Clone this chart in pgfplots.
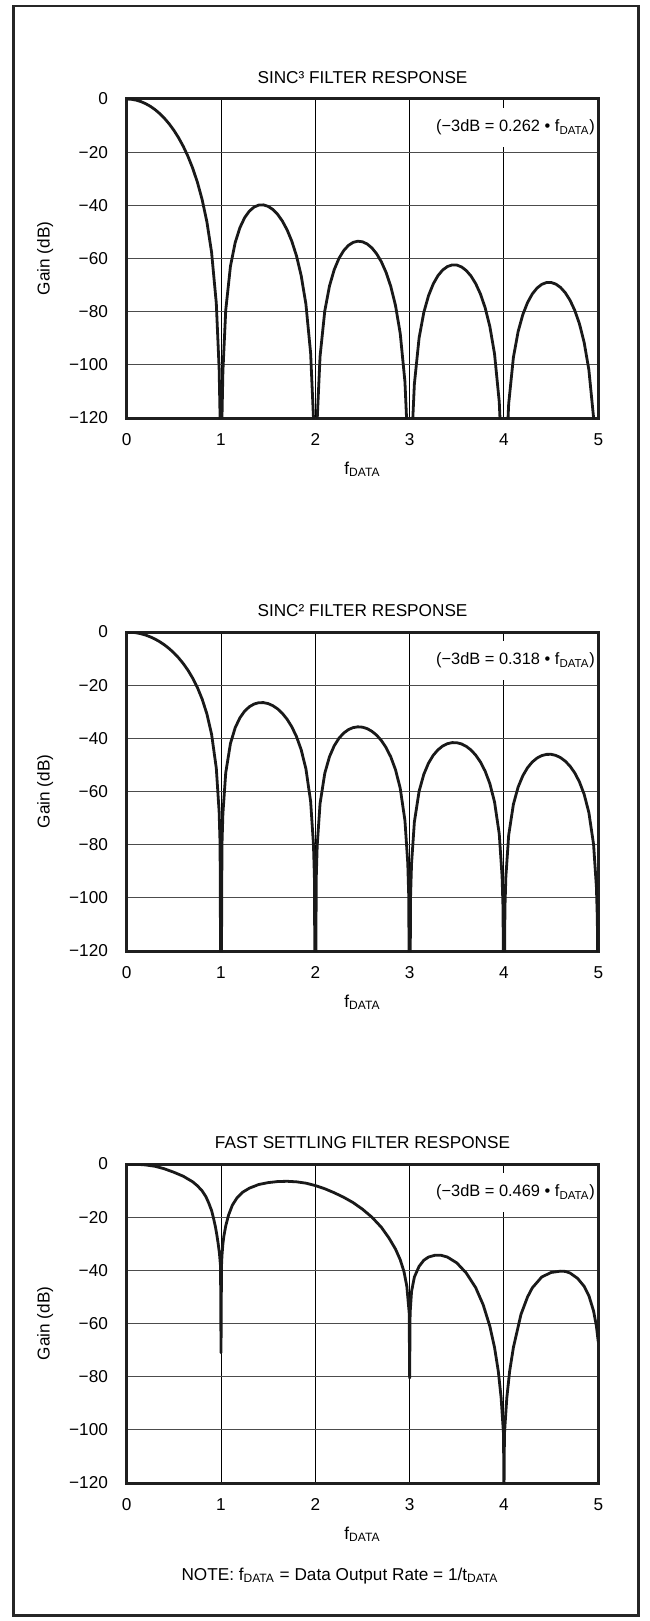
\documentclass[border=0pt]{standalone}
\usepackage{fontspec}
\setmainfont{Liberation Sans}
\usepackage{pgfplots}
\pgfplotsset{compat=1.18}
\newcommand{\fs}{\fontsize{8.6}{10}\selectfont}
\newcommand{\fa}{\fontsize{8.2}{10}\selectfont}
\pgfplotsset{
 filt/.style={
  scale only axis, width=235.8pt, height=159.5pt,
  xmin=0, xmax=5, ymin=-120, ymax=0,
  clip mode=individual,
  xtick={0,1,2,3,4,5}, xticklabels={0,1,2,3,4,5},
  ytick={-120,-100,-80,-60,-40,-20,0}, yticklabels={−120,−100,−80,−60,−40,−20,0},
  major tick length=0pt,
  grid=major,
  x grid style={black, line width=0.5pt},
  y grid style={black!70, line width=0.6pt},
  axis line style={line width=1.5pt, black!88},
  tick label style={font=\fs, black},
  xticklabel style={anchor=base, yshift=-13.5pt},
  yticklabel style={anchor=east, inner sep=0pt, xshift=-9.2pt},
  every axis x label/.style={at={(axis description cs:0.5,0)}, anchor=base, yshift=-28pt, font=\fs},
  every axis y label/.style={at={(axis description cs:0,0.5)}, xshift=-38.5pt, rotate=90, anchor=base, font=\fs},
  xlabel={f\textsubscript{DATA}},
  ylabel={Gain (dB)},
 },
 curve/.style={line width=1.4pt, black!90, line join=round},
}
\tikzset{
 annot/.style={anchor=base east, font=\fa, fill=white, inner xsep=0.5pt, inner ysep=6pt, xshift=-1pt, yshift=-16.4pt},
 ttl/.style={anchor=base, font=\fs, yshift=7.8pt},
}
\begin{document}
\begin{tikzpicture}
\useasboundingbox (0,0) rectangle (324.5pt,-810.5pt);
\draw[line width=1.4pt, black!85] (6.8pt,-3pt) rectangle (319.3pt,-807.6pt);

% ---------- SINC3 ----------
\begin{axis}[filt, at={(63.35pt,-49.5pt)}, anchor=north west]
\addplot[curve] coordinates {
(0,0) (0.05,-0.108) (0.1,-0.429) (0.15,-0.972) (0.2,-1.740) (0.25,-2.736) (0.3,-3.978) (0.35,-5.478) (0.4,-7.260) (0.45,-9.345) (0.5,-11.766) (0.55,-14.574) (0.6,-17.826) (0.65,-21.609) (0.7,-26.058) (0.75,-31.362) (0.8,-37.863) (0.85,-46.170) (0.9,-57.684) (0.95,-76.830) (0.98,-101.43) (0.99,-119.74) (1,-160) (1.01,-120.26) (1.02,-102.47) (1.05,-79.44) (1.1,-62.91) (1.15,-54.05) (1.2,-48.43) (1.25,-44.67) (1.3,-42.19) (1.35,-40.66) (1.4,-39.91) (1.45,-39.83) (1.5,-40.40) (1.55,-41.57) (1.6,-43.38) (1.65,-45.89) (1.7,-49.18) (1.75,-53.44) (1.8,-58.99) (1.85,-66.44) (1.9,-77.15) (1.95,-95.57) (1.98,-119.75) (2,-160) (2.02,-120.28) (2.05,-96.87) (2.1,-79.76) (2.15,-70.35) (2.2,-64.22) (2.25,-59.99) (2.3,-57.06) (2.35,-55.10) (2.4,-53.95) (2.45,-53.50) (2.5,-53.71) (2.55,-54.55) (2.6,-56.03) (2.65,-58.23) (2.7,-61.23) (2.75,-65.22) (2.8,-70.51) (2.85,-77.70) (2.9,-88.17) (2.95,-106.36) (2.98,-130.41) (3,-160) (3.02,-130.76) (3.05,-107.23) (3.1,-89.91) (3.15,-80.30) (3.2,-73.99) (3.25,-69.57) (3.3,-66.46) (3.35,-64.34) (3.4,-63.03) (3.45,-62.42) (3.5,-62.47) (3.55,-63.17) (3.6,-64.52) (3.65,-66.57) (3.7,-69.44) (3.75,-73.30) (3.8,-78.47) (3.85,-85.53) (3.9,-95.89) (3.95,-113.96) (3.98,-137.95) (4,-160) (4.02,-138.21) (4.05,-114.62) (4.1,-97.20) (4.15,-87.49) (4.2,-81.07) (4.25,-76.56) (4.3,-73.36) (4.35,-71.15) (4.4,-69.74) (4.45,-69.05) (4.5,-69.02) (4.55,-69.63) (4.6,-70.90) (4.65,-72.88) (4.7,-75.68) (4.75,-79.46) (4.8,-84.55) (4.85,-91.55) (4.9,-101.84) (4.95,-119.84) (4.98,-143.79) (5,-160)
};
\node[ttl] at (rel axis cs:0.5,1) {SINC³ FILTER RESPONSE};
\node[annot] at (rel axis cs:1,1) {(−3dB = 0.262 • f\textsubscript{DATA})};
\end{axis}

% ---------- SINC2 ----------
\begin{axis}[filt, at={(63.35pt,-316pt)}, anchor=north west]
\addplot[curve] coordinates {
(0,0) (0.05,-0.072) (0.1,-0.286) (0.15,-0.648) (0.2,-1.160) (0.25,-1.824) (0.3,-2.652) (0.35,-3.652) (0.4,-4.840) (0.45,-6.230) (0.5,-7.844) (0.55,-9.716) (0.6,-11.884) (0.65,-14.406) (0.7,-17.372) (0.75,-20.908) (0.8,-25.242) (0.85,-30.780) (0.9,-38.456) (0.95,-51.220) (0.98,-67.62) (0.99,-79.83) (1,-160) (1.01,-80.17) (1.02,-68.31) (1.05,-52.96) (1.1,-41.94) (1.15,-36.03) (1.2,-32.29) (1.25,-29.78) (1.3,-28.13) (1.35,-27.10) (1.4,-26.60) (1.45,-26.56) (1.5,-26.93) (1.55,-27.72) (1.6,-28.92) (1.65,-30.59) (1.7,-32.79) (1.75,-35.63) (1.8,-39.33) (1.85,-44.29) (1.9,-51.44) (1.95,-63.71) (1.98,-79.84) (1.99,-91.96) (2,-160) (2.01,-92.13) (2.02,-80.18) (2.05,-64.58) (2.1,-53.17) (2.15,-46.90) (2.2,-42.81) (2.25,-39.99) (2.3,-38.04) (2.35,-36.73) (2.4,-35.97) (2.45,-35.67) (2.5,-35.80) (2.55,-36.36) (2.6,-37.36) (2.65,-38.82) (2.7,-40.82) (2.75,-43.48) (2.8,-47.00) (2.85,-51.80) (2.9,-58.78) (2.95,-70.90) (2.98,-86.94) (2.99,-99.03) (3,-160) (3.01,-99.14) (3.02,-87.17) (3.05,-71.48) (3.1,-59.94) (3.15,-53.54) (3.2,-49.32) (3.25,-46.38) (3.3,-44.31) (3.35,-42.89) (3.4,-42.02) (3.45,-41.61) (3.5,-41.65) (3.55,-42.11) (3.6,-43.01) (3.65,-44.38) (3.7,-46.30) (3.75,-48.87) (3.8,-52.31) (3.85,-57.02) (3.9,-63.93) (3.95,-75.98) (3.98,-91.96) (3.99,-104.04) (4,-160) (4.01,-104.13) (4.02,-92.14) (4.05,-76.41) (4.1,-64.80) (4.15,-58.33) (4.2,-54.05) (4.25,-51.04) (4.3,-48.91) (4.35,-47.43) (4.4,-46.50) (4.45,-46.04) (4.5,-46.01) (4.55,-46.42) (4.6,-47.27) (4.65,-48.59) (4.7,-50.45) (4.75,-52.97) (4.8,-56.37) (4.85,-61.03) (4.9,-67.89) (4.95,-79.90) (4.98,-95.86) (4.99,-107.93) (5,-160)
};
\node[ttl] at (rel axis cs:0.5,1) {SINC² FILTER RESPONSE};
\node[annot] at (rel axis cs:1,1) {(−3dB = 0.318 • f\textsubscript{DATA})};
\end{axis}

% ---------- FAST SETTLING ----------
\begin{axis}[filt, at={(63.35pt,-582pt)}, anchor=north west]
\addplot[curve] coordinates {
(0,0) (0.1,-0.08) (0.2,-0.35) (0.3,-0.85) (0.4,-1.8) (0.5,-3.1) (0.6,-4.6) (0.7,-6.7) (0.75,-8.2) (0.8,-10.1) (0.84,-12.3) (0.87,-14.7) (0.9,-17.5) (0.92,-20.3) (0.94,-23.5) (0.955,-26.5) (0.97,-30) (0.983,-33.5) (0.995,-38.5) (1,-71) (1.005,-38.5) (1.01,-34.5) (1.02,-30) (1.03,-27.2) (1.05,-23.3) (1.08,-19.2) (1.12,-15.5) (1.17,-12.7) (1.23,-10.6) (1.3,-9.1) (1.4,-7.7) (1.5,-7.0) (1.6,-6.6) (1.7,-6.5) (1.8,-6.7) (1.9,-7.2) (2,-8.1) (2.1,-9.3) (2.2,-10.8) (2.3,-12.5) (2.4,-14.5) (2.5,-17.0) (2.6,-20.0) (2.7,-23.8) (2.78,-27.8) (2.85,-32) (2.9,-36) (2.94,-40.5) (2.97,-46) (2.995,-56) (3,-80.5) (3.005,-56) (3.02,-48) (3.05,-42.5) (3.1,-38.5) (3.15,-36.2) (3.2,-35) (3.27,-34.3) (3.33,-34.3) (3.4,-35.0) (3.5,-37.2) (3.6,-41) (3.7,-46.5) (3.78,-53) (3.85,-61) (3.9,-69) (3.94,-78) (3.97,-88) (3.995,-101.5) (4,-125) (4.005,-101.5) (4.03,-88) (4.06,-78) (4.1,-69) (4.18,-56.6) (4.25,-50) (4.3,-46.6) (4.4,-42.5) (4.5,-40.8) (4.6,-40.3) (4.65,-40.4) (4.7,-41) (4.78,-43) (4.85,-46) (4.9,-49.5) (4.95,-55.3) (4.98,-61) (5,-67)
};
\node[ttl] at (rel axis cs:0.5,1) {FAST SETTLING FILTER RESPONSE};
\node[annot] at (rel axis cs:1,1) {(−3dB = 0.469 • f\textsubscript{DATA})};
\end{axis}

\node[anchor=base, font=\fs] at (170pt,-790.3pt) {NOTE: f\textsubscript{DATA} = Data Output Rate = 1/t\textsubscript{DATA}};
\end{tikzpicture}
\end{document}
